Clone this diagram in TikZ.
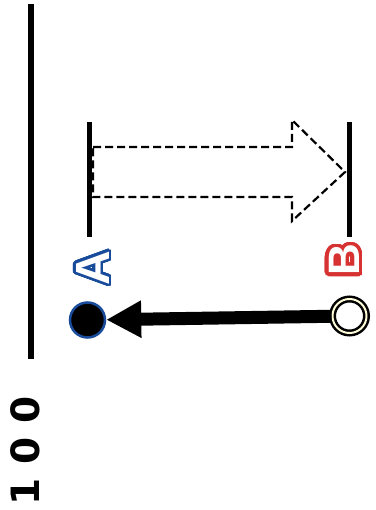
\documentclass[tikz,border=0pt]{standalone}
\usepackage{fontspec}
\setmainfont{Liberation Sans}
\newfontfamily\numfont{DejaVu Sans}
\usepackage{contour}
\contournumber{48}
\usetikzlibrary{arrows.meta}
\definecolor{ablue}{RGB}{25,75,155}
\definecolor{bred}{RGB}{215,50,50}
\tikzset{
  bar/.style={line width=5pt},
  dotA/.style={circle,fill=black,draw=ablue,line width=2.5pt,minimum size=35pt,inner sep=0pt},
  dotB/.style={circle,fill=white,draw=black,double=white!85!yellow,double distance=2pt,line width=2.5pt,minimum size=34pt,inner sep=0pt},
  letter/.style={rotate=90,font=\bfseries\fontsize{48}{48}\selectfont,inner sep=0pt}
}
\begin{document}
\begin{tikzpicture}[x=1pt,y=-1pt]
\useasboundingbox (0,0) rectangle (375,510);
\draw[line width=6.5pt] (31,4) -- (31,359);
\draw[bar] (89,122) -- (89,237);
\draw[bar] (349,122) -- (349,237);
\draw[dashed,line width=2.2pt,dash pattern=on 8pt off 4pt]
  (93,147) -- (292,147) -- (292,120) -- (345,172) -- (292,221) -- (292,197) -- (93,197) -- cycle;
\node[dotA] (nA) at (87.5,320) {};
\node[dotB] (nB) at (349.5,316) {};
\draw[line width=13pt,-{Triangle[length=35pt,width=35pt]}] (nB) -- (nA);
\node[letter] (labA) at (94,268) {\contourlength{2.5pt}\contour{ablue}{\textcolor{white}{A}}};
\node[letter,font=\bfseries\fontsize{44}{44}\selectfont] (labB) at (346,260) {\contourlength{3.5pt}\contour{bred}{\textcolor{white}{B}}};
\node[rotate=90,font=\numfont\bfseries\fontsize{39}{39}\selectfont] (num) at (25,451) {1 0 0};
\end{tikzpicture}
\end{document}
